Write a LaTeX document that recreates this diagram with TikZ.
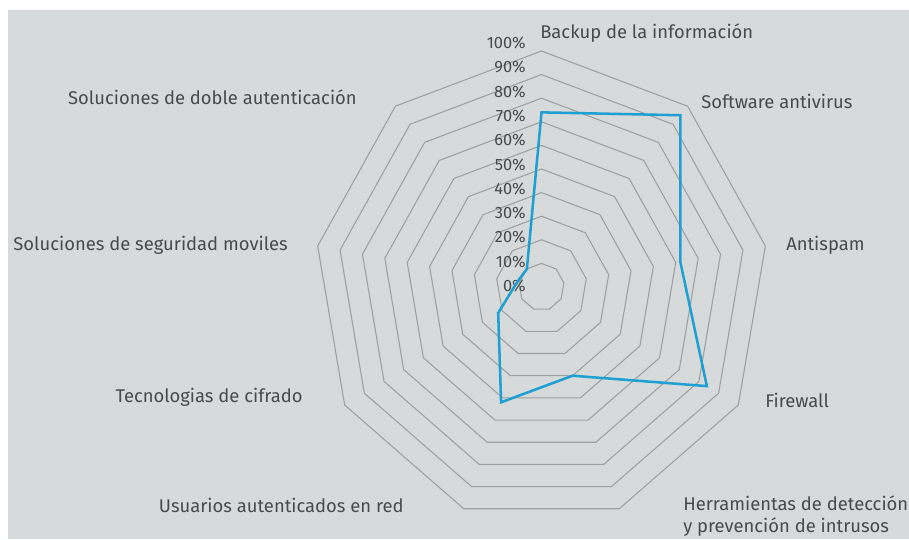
\documentclass[tikz,border=0pt]{standalone}
\usepackage{fontspec}
\setmainfont{Fira Sans}
\definecolor{panel}{HTML}{D7DADB}
\definecolor{ringgray}{HTML}{9D9FA0}
\definecolor{series}{HTML}{1FA0D2}
\definecolor{labeltext}{HTML}{474B4E}

\begin{document}
\begin{tikzpicture}[x=0.75pt,y=0.75pt,
  ring/.style={ringgray,line width=0.8pt,line join=miter},
  data/.style={series,line width=1.9pt,line join=miter},
  axislabel/.style={text=labeltext,font=\fontsize{13.8}{16.5}\selectfont,inner sep=0pt,align=left},
  pct/.style={text=labeltext,font=\fontsize{12.3}{14}\selectfont,inner sep=0pt,anchor=east}]

  \useasboundingbox (-541.5,-252) rectangle (367.5,287);
  \fill[white] (-541.5,-252) rectangle (367.5,287);
  \fill[panel] (-533.5,-252) rectangle (367.5,277);

  % rings 10% ... 100%, nine axes
  \begin{scope}[xscale=0.963]
    \foreach \k in {1,...,10}
      \draw[ring] (90:23.6*\k) \foreach \i in {1,...,8} { -- (90-40*\i:23.6*\k) } -- cycle;

    % values in %
    \foreach \v [count=\i from 0] in {74,95,62,84,40,52,22,11,10}
      \coordinate (d\i) at (90-40*\i:2.36*\v);
  \end{scope}

  % scale
  \foreach \p [count=\k from 0] in {0,10,...,100}
    \node[pct] (p\k) at (-15.5,1+24.3*\k) {\p\%};

  % categories
  \node[axislabel,anchor=west] (backup)    at (-1.5,254)   {Backup de la información};
  \node[axislabel,anchor=west] (antivirus) at (159.5,186)  {Software antivirus};
  \node[axislabel,anchor=west] (antispam)  at (244.5,42)   {Antispam};
  \node[axislabel,anchor=west] (firewall)  at (223.5,-113) {Firewall};
  \node[axislabel,anchor=west] (ids)       at (141.5,-229) {Herramientas de detección\\y prevención de intrusos};
  \node[axislabel,anchor=east] (usuarios)  at (-137.5,-218) {Usuarios autenticados en red};
  \node[axislabel,anchor=east] (cifrado)   at (-238.5,-110) {Tecnologias de cifrado};
  \node[axislabel,anchor=east] (moviles)   at (-253.5,42)  {Soluciones de seguridad moviles};
  \node[axislabel,anchor=east] (doble)     at (-184.5,190) {Soluciones de doble autenticación};

  % series
  \draw[data] (d0) -- (d1) -- (d2) -- (d3) -- (d4) -- (d5) -- (d6) -- (d7) -- (d8) -- cycle;
\end{tikzpicture}
\end{document}
